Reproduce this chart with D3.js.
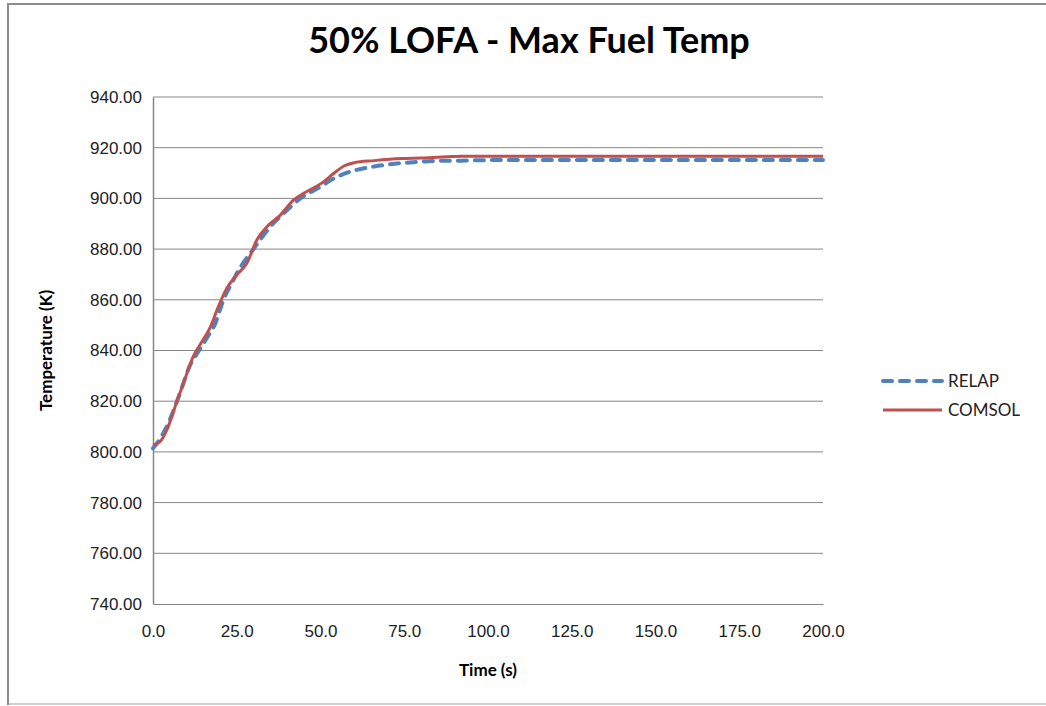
<!DOCTYPE html>
<html>
<head>
<meta charset="utf-8">
<script src="https://cdn.jsdelivr.net/npm/d3@7"></script>
<style>
  body { margin: 0; background: #fff; }
  svg { display: block; font-family: Lato, "Open Sans", sans-serif; }
  .tick-label { font-size: 17px; fill: #222; }
  .axis-title { font-size: 17px; font-weight: bold; fill: #000; }
</style>
</head>
<body>
<svg id="chart" width="1046" height="706"></svg>
<script>
// Time (s) and max fuel temperature (K).
const relap_time = [0, 2, 5, 8, 11, 13.5, 16, 18.6, 21, 24, 25, 30, 35, 39, 44, 50, 54, 59, 66, 74, 80, 84, 92, 100, 125, 150, 175, 200];
const relap_temp = [801.4, 805, 812.6, 823, 834, 839.5, 844.8, 850.7, 859.9, 867.8, 870.4, 880, 888.8, 894.1, 900, 904.6, 907.9, 910.6, 912.6, 913.9, 914.5, 914.8, 914.9, 915.1, 915.1, 915.1, 915.1, 915.1];

const comsol_time = [0, 2.1, 4.1, 7.1, 9.6, 12, 14, 17, 19.5, 22, 25, 28, 31, 34, 38, 42, 45, 51, 54, 57, 60, 66, 74, 80, 92.5, 100, 125, 150, 175, 200];
const comsol_temp = [802.7, 804, 808.6, 819.8, 829, 837.6, 842.2, 848.9, 857.3, 864.5, 869.8, 874.4, 883.6, 888.8, 893.4, 899.4, 902, 906.6, 909.9, 912.8, 914.1, 914.9, 915.7, 915.9, 916.6, 916.6, 916.6, 916.6, 916.6, 916.6];

const x_ticks = [0, 25, 50, 75, 100, 125, 150, 175, 200];
const y_ticks = [740, 760, 780, 800, 820, 840, 860, 880, 900, 920, 940];

const series_names = ["RELAP", "COMSOL"];
const series_colors = ["#4F81BD", "#C0504D"];

let svg = d3.select("#chart");

// Outer chart border (runs off the right edge like the original screenshot).
svg.append("rect")
    .attr("x", 8).attr("y", 4)
    .attr("width", 1060).attr("height", 700)
    .attr("fill", "#fff")
    .attr("stroke", "#8c8c8c")
    .attr("stroke-width", 2);
svg.append("line")
    .attr("x1", 9).attr("x2", 1046)
    .attr("y1", 704).attr("y2", 704)
    .attr("stroke", "#d0d0d0")
    .attr("stroke-width", 2);

// Scales.
let x = d3.scaleLinear().domain([0, 200]).range([153, 823]);
let y = d3.scaleLinear().domain([740, 940]).range([604, 97]);

// Gridlines.
svg.append("g")
    .selectAll("line")
    .data(y_ticks.slice(1))
    .enter().append("line")
    .attr("x1", x(0)).attr("x2", x(200))
    .attr("y1", d => y(d)).attr("y2", d => y(d))
    .attr("stroke", "#868686")
    .attr("stroke-width", 1);

// Axes drawn with d3 axis generators, tick marks hidden.
let x_axis = svg.append("g")
    .attr("transform", "translate(0," + y(740) + ")")
    .call(d3.axisBottom(x).tickValues(x_ticks).tickSize(0).tickPadding(21)
        .tickFormat(d3.format(".1f")));
x_axis.select(".domain").attr("stroke", "#868686").attr("stroke-width", 1.2);
x_axis.selectAll("text").attr("class", "tick-label").attr("font-family", null).attr("font-size", null);

let y_axis = svg.append("g")
    .attr("transform", "translate(" + x(0) + ",0)")
    .call(d3.axisLeft(y).tickValues(y_ticks).tickSize(0).tickPadding(11)
        .tickFormat(d3.format(".2f")));
y_axis.select(".domain").attr("stroke", "#868686").attr("stroke-width", 1.5);
y_axis.selectAll("text").attr("class", "tick-label").attr("font-family", null).attr("font-size", null);

// Lines.
let line = d3.line()
    .x(d => x(d[0]))
    .y(d => y(d[1]))
    .curve(d3.curveMonotoneX);

svg.append("path")
    .datum(relap_time.map((t, i) => [t, relap_temp[i]]))
    .attr("fill", "none")
    .attr("stroke", series_colors[0])
    .attr("stroke-width", 4)
    .attr("stroke-dasharray", "9,8")
    .attr("stroke-linecap", "round")
    .attr("d", line);

svg.append("path")
    .datum(comsol_time.map((t, i) => [t, comsol_temp[i]]))
    .attr("fill", "none")
    .attr("stroke", series_colors[1])
    .attr("stroke-width", 3)
    .attr("stroke-linejoin", "round")
    .attr("d", line);

// Title and axis titles.
svg.append("text")
    .attr("x", 529).attr("y", 53)
    .attr("text-anchor", "middle")
    .attr("font-size", 36)
    .attr("font-weight", "bold")
    .text("50% LOFA - Max Fuel Temp");

svg.append("text")
    .attr("class", "axis-title")
    .attr("x", 488).attr("y", 676)
    .attr("text-anchor", "middle")
    .text("Time (s)");

svg.append("text")
    .attr("class", "axis-title")
    .attr("transform", "translate(52," + y(840) + ") rotate(-90)")
    .attr("text-anchor", "middle")
    .text("Temperature (K)");

// Legend.
let legend = svg.selectAll(".legend")
    .data(series_names)
    .enter().append("g")
    .attr("class", "legend")
    .attr("transform", (d, i) => "translate(883," + (381 + i * 29) + ")");

legend.append("line")
    .attr("x1", 0).attr("x2", 59)
    .attr("y1", 0).attr("y2", 0)
    .attr("stroke", (d, i) => series_colors[i])
    .attr("stroke-width", (d, i) => i === 0 ? 4 : 3)
    .attr("stroke-dasharray", (d, i) => i === 0 ? "9,8" : null)
    .attr("stroke-linecap", (d, i) => i === 0 ? "round" : "butt");

legend.append("text")
    .attr("class", "tick-label")
    .attr("x", 65)
    .attr("y", 6)
    .text(d => d);
</script>
</body>
</html>
